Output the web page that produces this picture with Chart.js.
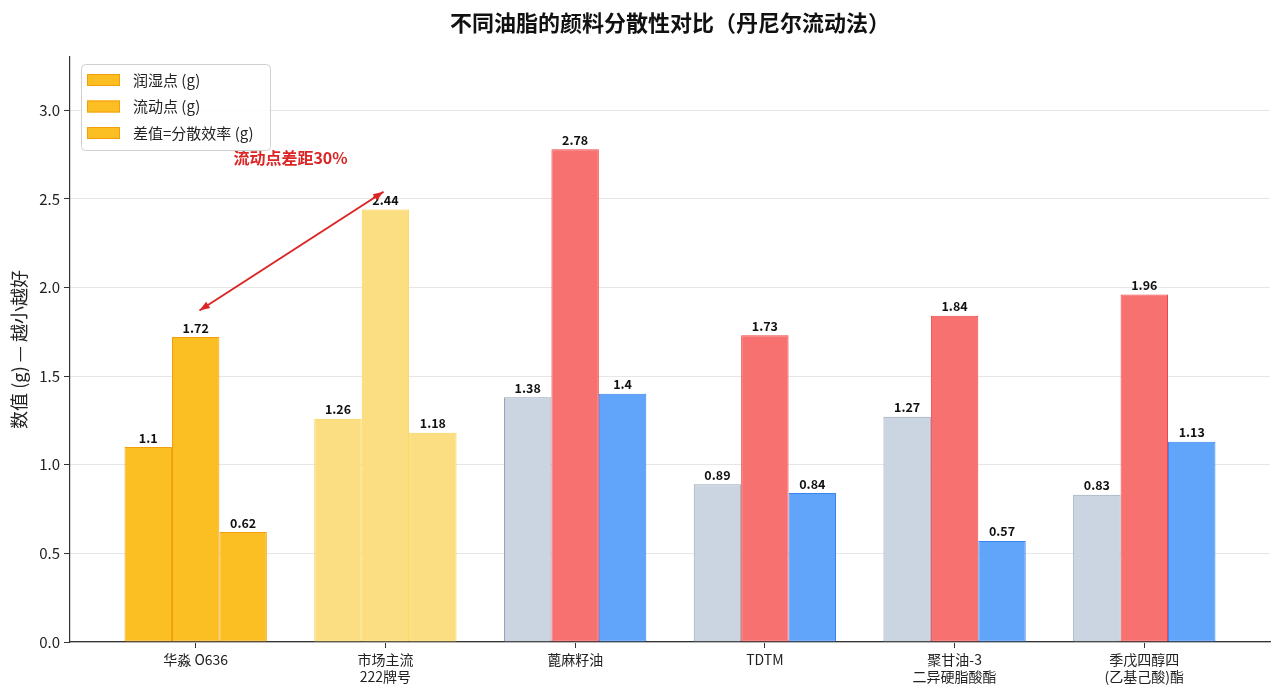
<!DOCTYPE html>
<html>
<head>
<meta charset="utf-8">
<script src="https://cdn.jsdelivr.net/npm/chart.js@4.4.1/dist/chart.umd.min.js"></script>
<style>
    html, body { margin: 0; padding: 0; background: #fff; }
    #wrap { width: 1283px; height: 697px; }
</style>
</head>
<body>
<div id="wrap"><canvas id="dispersionChart"></canvas></div>
<script>
// Data
const categories = ['华淼 O636', ['市场主流', '222牌号'], '蓖麻籽油', 'TDTM', ['聚甘油-3', '二异硬脂酸酯'], ['季戊四醇四', '(乙基己酸)酯']];
const wettingPoint = [1.1, 1.26, 1.38, 0.89, 1.27, 0.83];
const flowPoint = [1.72, 2.44, 2.78, 1.73, 1.84, 1.96];
const difference = [0.62, 1.18, 1.4, 0.84, 0.57, 1.13];
const seriesNames = ['润湿点 (g)', '流动点 (g)', '差值=分散效率 (g)'];
const yTicks = [0, 0.5, 1.0, 1.5, 2.0, 2.5, 3.0];

const FONT = "'Noto Sans CJK SC', 'Noto Sans', sans-serif";
const TITLE = '不同油脂的颜料分散性对比（丹尼尔流动法）';

// Colours: highlight group, market group, then the others
const hiFill = '#FBBF24', hiBorder = '#F59E0B';
const mkFill = '#FCDE82', mkBorder = '#FCD34D';
const otherFill = ['#CBD5E1', '#F87171', '#60A5FA'];
const otherBorder = ['#94A3B8', '#EF4444', '#3B82F6'];

function colorsFor(seriesIdx, fill) {
    return categories.map((c, i) => {
        if (i === 0) return fill ? hiFill : hiBorder;
        if (i === 1) return fill ? mkFill : mkBorder;
        return fill ? otherFill[seriesIdx] : otherBorder[seriesIdx];
    });
}

function toPoints(values) {
    return values.map((v, i) => ({ x: i, y: v }));
}

// Title centred over the plot area
const plotTitle = {
    id: 'plotTitle',
    afterDraw(chart) {
        const { ctx, chartArea } = chart;
        ctx.save();
        ctx.font = `bold 22px ${FONT}`;
        ctx.fillStyle = '#111';
        ctx.textAlign = 'center';
        ctx.textBaseline = 'middle';
        ctx.fillText(TITLE, (chartArea.left + chartArea.right) / 2, 23);
        ctx.restore();
    }
};

// Value labels above bars
const valueLabels = {
    id: 'valueLabels',
    afterDatasetsDraw(chart) {
        const ctx = chart.ctx;
        ctx.save();
        ctx.font = `bold 12.5px ${FONT}`;
        ctx.fillStyle = '#111';
        ctx.textAlign = 'center';
        ctx.textBaseline = 'bottom';
        chart.data.datasets.forEach((ds, di) => {
            chart.getDatasetMeta(di).data.forEach((bar, i) => {
                ctx.fillText(String(ds.data[i].y), bar.x, bar.y - 3);
            });
        });
        ctx.restore();
    }
};

// Arrow + note between the flow points of the first two groups
const annotation = {
    id: 'annotation',
    afterDatasetsDraw(chart) {
        const { ctx, scales: { x, y } } = chart;
        const x1 = x.getPixelForValue(0.02), y1 = y.getPixelForValue(1.87);
        const x2 = x.getPixelForValue(0.99), y2 = y.getPixelForValue(2.54);
        ctx.save();
        ctx.strokeStyle = '#DC2626';
        ctx.fillStyle = '#DC2626';
        ctx.lineWidth = 2;
        ctx.beginPath();
        ctx.moveTo(x1, y1);
        ctx.lineTo(x2, y2);
        ctx.stroke();
        const head = (px, py, ang) => {
            ctx.beginPath();
            ctx.moveTo(px, py);
            ctx.lineTo(px - 11 * Math.cos(ang - 0.35), py - 11 * Math.sin(ang - 0.35));
            ctx.lineTo(px - 11 * Math.cos(ang + 0.35), py - 11 * Math.sin(ang + 0.35));
            ctx.closePath();
            ctx.fill();
        };
        const a = Math.atan2(y2 - y1, x2 - x1);
        head(x2, y2, a);
        head(x1, y1, a + Math.PI);
        ctx.font = `bold 16px ${FONT}`;
        ctx.textAlign = 'center';
        ctx.textBaseline = 'middle';
        ctx.fillText('流动点差距30%', x.getPixelForValue(0.5), y.getPixelForValue(2.73));
        ctx.restore();
    }
};

// Legend drawn inside the plot, upper left
const innerLegend = {
    id: 'innerLegend',
    afterDraw(chart) {
        const { ctx, chartArea } = chart;
        const bx = chartArea.left + 11, by = chartArea.top + 7;
        const w = 189, h = 86;
        ctx.save();
        ctx.fillStyle = 'rgba(255,255,255,0.85)';
        ctx.strokeStyle = '#d0d0d0';
        ctx.lineWidth = 1;
        ctx.beginPath();
        ctx.roundRect(bx + 0.5, by + 0.5, w, h, 4);
        ctx.fill();
        ctx.stroke();
        ctx.font = `15px ${FONT}`;
        ctx.textBaseline = 'middle';
        chart.data.datasets.forEach((ds, i) => {
            const ry = by + 16 + i * 26.5;
            ctx.fillStyle = hiFill;
            ctx.strokeStyle = hiBorder;
            ctx.fillRect(bx + 6, ry - 6, 33, 12);
            ctx.strokeRect(bx + 6.5, ry - 5.5, 32, 11);
            ctx.fillStyle = '#222';
            ctx.fillText(ds.label, bx + 52, ry);
        });
        ctx.restore();
    }
};

const ctx = document.getElementById('dispersionChart').getContext('2d');
new Chart(ctx, {
    type: 'bar',
    data: {
        datasets: [wettingPoint, flowPoint, difference].map((vals, s) => ({
            label: seriesNames[s],
            data: toPoints(vals),
            backgroundColor: colorsFor(s, true),
            borderColor: colorsFor(s, false),
            borderWidth: 1,
            borderSkipped: false,
            categoryPercentage: 0.75,
            barPercentage: 1.0
        }))
    },
    options: {
        responsive: true,
        maintainAspectRatio: false,
        animation: false,
        layout: { padding: { left: 8, right: 13, top: 57, bottom: 0 } },
        plugins: {
            legend: { display: false },
            tooltip: { enabled: false },
            title: { display: false }
        },
        scales: {
            x: {
                type: 'linear',
                min: -0.6625,
                max: 5.6625,
                offset: false,
                afterBuildTicks(scale) {
                    scale.ticks = categories.map((c, i) => ({ value: i }));
                },
                afterFit(scale) { scale.height = 55; },
                ticks: {
                    color: '#222',
                    font: { family: FONT, size: 14 },
                    padding: 3,
                    maxRotation: 0,
                    autoSkip: false,
                    callback: (v) => categories[v]
                },
                grid: { offset: false, drawOnChartArea: false, tickColor: '#333', tickLength: 6 },
                border: { color: '#333', width: 1.2 }
            },
            y: {
                min: 0,
                max: 3.3,
                afterBuildTicks(scale) {
                    scale.ticks = yTicks.map(v => ({ value: v }));
                },
                afterFit(scale) { scale.width = 62; },
                ticks: {
                    color: '#222',
                    font: { family: FONT, size: 15 },
                    padding: 4,
                    callback: (v) => v.toFixed(1)
                },
                grid: { color: '#e6e6e6', tickColor: '#333', tickLength: 6 },
                border: { color: '#333', width: 1.2 },
                title: {
                    display: true,
                    text: '数值 (g) — 越小越好',
                    color: '#222',
                    font: { family: FONT, size: 18 },
                    padding: { top: 0, bottom: 0 }
                }
            }
        }
    },
    plugins: [valueLabels, annotation, innerLegend, plotTitle]
});
</script>
</body>
</html>
